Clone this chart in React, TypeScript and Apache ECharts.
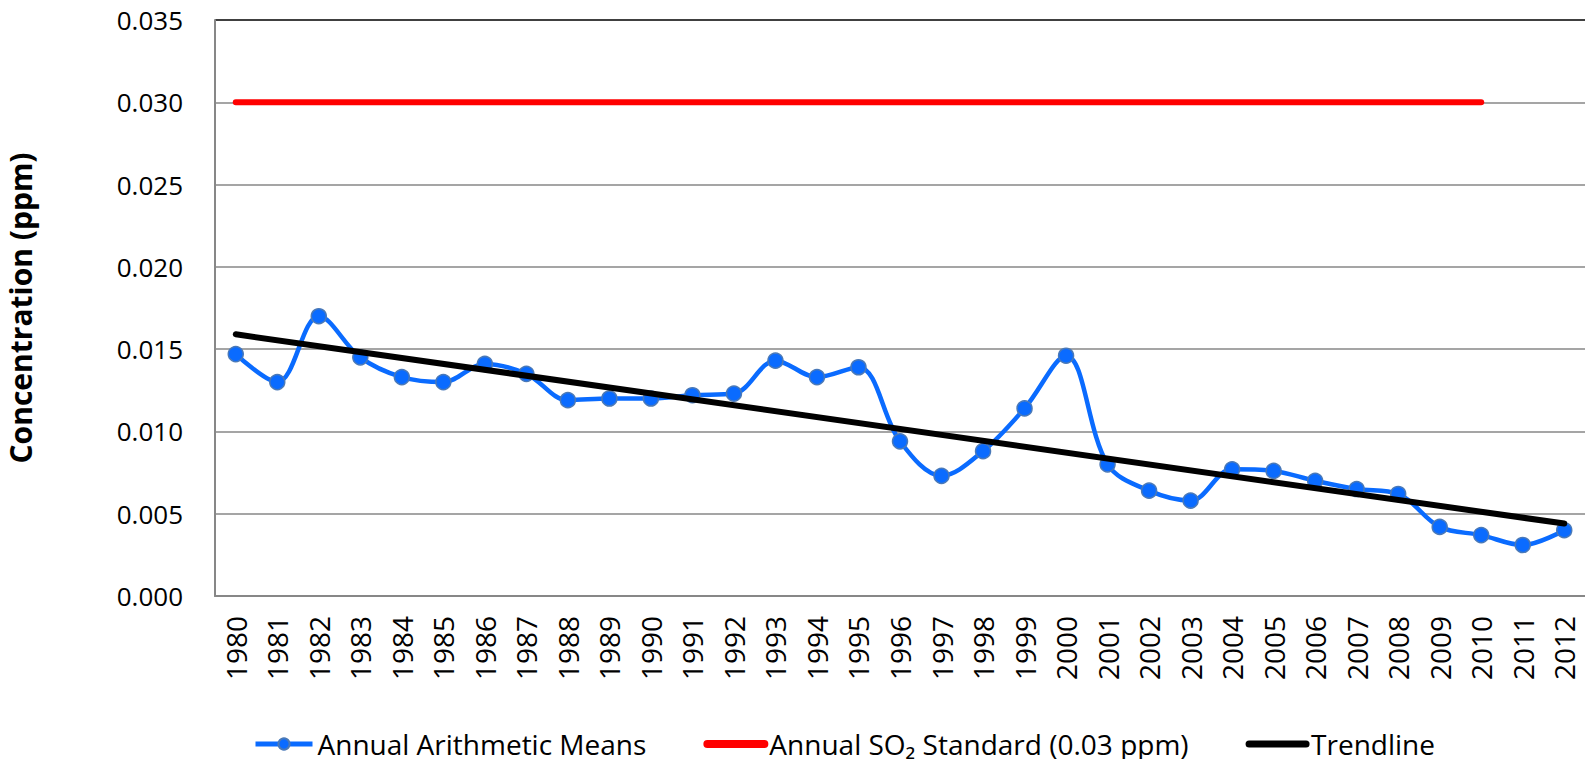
import React, { useEffect, useRef } from "react";
import * as echarts from "echarts";

const years = [
  "1980", "1981", "1982", "1983", "1984", "1985", "1986", "1987", "1988", "1989",
  "1990", "1991", "1992", "1993", "1994", "1995", "1996", "1997", "1998", "1999",
  "2000", "2001", "2002", "2003", "2004", "2005", "2006", "2007", "2008", "2009",
  "2010", "2011", "2012",
];

const annualMeans = [
  0.0147, 0.013, 0.017, 0.0145, 0.0133, 0.013, 0.0141, 0.0135, 0.0119, 0.012,
  0.012, 0.0122, 0.0123, 0.0143, 0.0133, 0.0139, 0.0094, 0.0073, 0.0088, 0.0114,
  0.0146, 0.008, 0.0064, 0.0058, 0.0077, 0.0076, 0.007, 0.0065, 0.0062, 0.0042,
  0.0037, 0.0031, 0.004,
];

// Annual SO2 standard: drawn from 1980 to 2010
const standardPoints: [string, number][] = [
  ["1980", 0.03],
  ["2010", 0.03],
];

// Linear trendline endpoints
const trendPoints: [string, number][] = [
  ["1980", 0.0159],
  ["2012", 0.0044],
];

const yTicks = { min: 0, max: 0.035, interval: 0.005 };

const seriesNames = ["Annual Arithmetic Means", "Annual SO₂ Standard (0.03 ppm)", "Trendline"];

const gray = "#878787";
const font = "Open Sans, DejaVu Sans";

export default function App() {
  const ref = useRef<HTMLDivElement>(null);

  useEffect(() => {
    document.body.style.margin = "0";
    if (!ref.current) return;
    const chart = echarts.init(ref.current, undefined, { renderer: "svg" });
    const splitColors = [gray, gray, gray, gray, gray, gray, gray, "#000000"];
    chart.setOption({
      animation: false,
      backgroundColor: "#ffffff",
      grid: {
        left: 215,
        right: 0,
        top: 20,
        bottom: 163,
        containLabel: false,
        outerBoundsMode: "none",
      },
      legend: {
        left: 253,
        bottom: 0,
        padding: 0,
        itemWidth: 57,
        itemHeight: 14,
        itemGap: 57,
        textStyle: { fontFamily: font, fontSize: 28, color: "#000", lineHeight: 30 },
        data: [
          { name: seriesNames[0], lineStyle: { width: 5 } },
          {
            name: seriesNames[1],
            lineStyle: { width: 8, cap: "round" },
            itemStyle: { color: "transparent", borderWidth: 0 },
          },
          {
            name: seriesNames[2],
            lineStyle: { width: 7, cap: "round" },
            itemStyle: { color: "transparent", borderWidth: 0 },
          },
        ],
      },
      xAxis: {
        type: "category",
        data: years,
        boundaryGap: true,
        axisLine: { lineStyle: { color: gray, width: 2 } },
        axisTick: { alignWithLabel: true, length: 8, lineStyle: { color: gray, width: 2 } },
        axisLabel: {
          rotate: 90,
          interval: 0,
          margin: 20,
          fontFamily: font,
          fontSize: 28,
          color: "#000",
        },
        splitLine: { show: false },
      },
      yAxis: {
        type: "value",
        min: yTicks.min,
        max: yTicks.max,
        interval: yTicks.interval,
        name: "Concentration (ppm)",
        nameLocation: "middle",
        nameGap: 180,
        nameTextStyle: {
          fontFamily: font,
          fontWeight: "bold",
          fontSize: 30,
          color: "#000",
        },
        axisLine: { show: true, lineStyle: { color: gray, width: 2 } },
        axisTick: { show: false },
        axisLabel: {
          margin: 32,
          fontFamily: font,
          fontSize: 26,
          color: "#000",
          formatter: (v: number) => v.toFixed(3),
        },
        splitLine: { show: true, lineStyle: { color: splitColors, width: 1.5 } },
      },
      series: [
        {
          name: seriesNames[0],
          type: "line",
          data: annualMeans,
          smooth: 0.35,
          symbol: "circle",
          symbolSize: 15,
          lineStyle: { color: "#0A6BFF", width: 4.5 },
          itemStyle: { color: "#0A6BFF", borderColor: "#4A79B8", borderWidth: 1.5 },
          z: 2,
        },
        {
          name: seriesNames[1],
          type: "line",
          data: standardPoints,
          symbol: "none",
          lineStyle: { color: "#FF0000", width: 6, cap: "round" },
          itemStyle: { color: "#FF0000" },
          z: 3,
        },
        {
          name: seriesNames[2],
          type: "line",
          data: trendPoints,
          symbol: "none",
          lineStyle: { color: "#000000", width: 6, cap: "round" },
          itemStyle: { color: "#000000" },
          z: 4,
        },
      ],
    });
    return () => chart.dispose();
  }, []);

  return (
    <div
      ref={ref}
      style={{ position: "absolute", left: 0, top: 0, width: 1585, height: 759 }}
    />
  );
}
